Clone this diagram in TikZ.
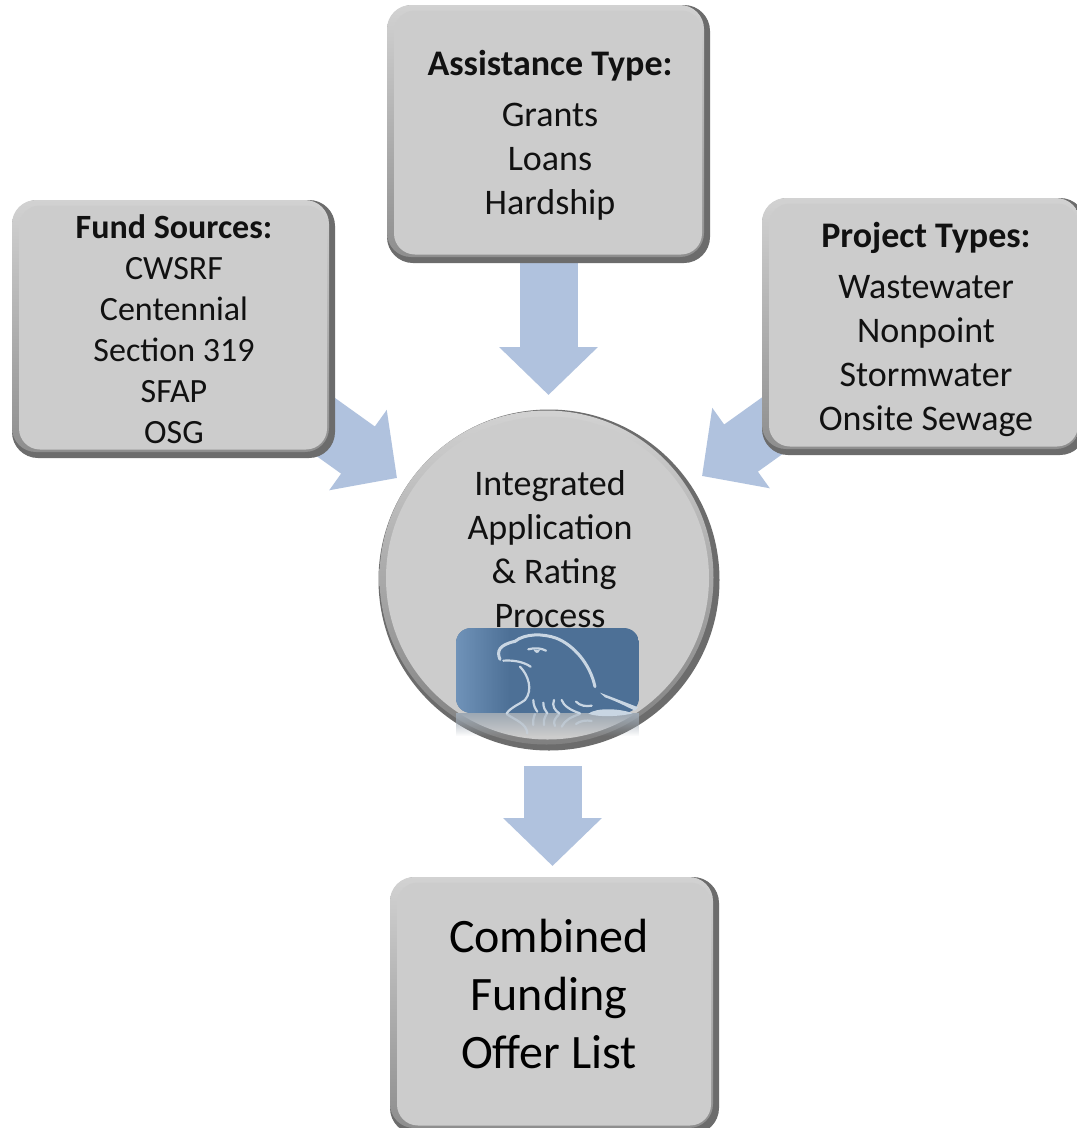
\documentclass[tikz,border=0pt]{standalone}
\usepackage{fontspec}
\setmainfont{Carlito}
\usetikzlibrary{arrows.meta,fadings,calc}
\definecolor{arrowblue}{HTML}{B0C2DE}
\definecolor{faceg}{HTML}{CCCCCC}
\definecolor{bevdark}{HTML}{6C6C6C}
\definecolor{bevtop}{HTML}{D2D2D2}
\definecolor{bevleft}{HTML}{8E8E8E}
\definecolor{logob}{HTML}{4D7096}
\definecolor{logol}{HTML}{7093B9}
\definecolor{eagle}{HTML}{C9D6E3}
\definecolor{txt}{HTML}{111111}
\newcommand{\bevbox}[5]{%
  \path let \n1={#4-#2}, \n2={#5-#3} in
    node[fill=bevdark,rounded corners=26pt,minimum width=\n1 pt,minimum height=\n2 pt,shape=rectangle,inner sep=0pt] (#1outer) at ({(#2+#4)/2},{(#3+#5)/2}) {};
  \path let \n1={#4-#2-6}, \n2={#5-#3-6} in
    node[top color=bevtop,bottom color=bevleft,rounded corners=24pt,minimum width=\n1 pt,minimum height=\n2 pt,shape=rectangle,inner sep=0pt] (#1mid) at ({(#2+#4)/2-3},{(#3+#5)/2-3}) {};
  \path let \n1={#4-#2-15}, \n2={#5-#3-14} in
    node[fill=faceg,rounded corners=21pt,minimum width=\n1 pt,minimum height=\n2 pt,shape=rectangle,inner sep=0pt] (#1) at ({(#2+#4)/2-0.5},{(#3+#5)/2-1.5}) {};
}
\tikzset{
  blockarrow/.style={draw=arrowblue,line width=58pt,-{Triangle[length=48pt,width=96pt,fill=arrowblue]}},
  listtext/.style={align=center,inner sep=0pt,text=txt,font=\fontsize{36}{44}\selectfont},
  fundtext/.style={align=center,inner sep=0pt,text=txt,font=\fontsize{34}{41}\selectfont},
  bigtext/.style={align=center,inner sep=0pt,text=black,font=\fontsize{48}{58}\selectfont},
  eagleline/.style={draw=eagle,line width=2.2pt,line cap=round}
}
\begin{document}
\begin{tikzpicture}[x=1pt,y=-1pt]
\useasboundingbox (0,0) rectangle (1077,1128);
\fill[white] (0,0) rectangle (1077,1128);
\clip (0,0) rectangle (1077,1128);
% arrow ends
\coordinate (fundout) at (309,415);
\coordinate (tipL) at (397,478);
\coordinate (projout) at (797,408);
\coordinate (tipR) at (702,476);
\coordinate (assistout) at (548.5,250);
\coordinate (tipT) at (548.5,395);
\coordinate (centerout) at (552.5,766);
\coordinate (tipB) at (552.5,866);
\draw[blockarrow] (fundout) -- (tipL);
\draw[blockarrow] (projout) -- (tipR);
\draw[blockarrow] (assistout) -- (tipT);
\draw[blockarrow] (centerout) -- (tipB);
% boxes
\bevbox{assist}{387}{5}{710}{263}
\bevbox{fund}{12}{200}{335}{458}
\bevbox{proj}{762}{198}{1086}{455}
\bevbox{comb}{390}{877}{719}{1134}
% circle
\node[circle,fill=bevdark,minimum size=341pt,inner sep=0pt] (circO) at (549,580) {};
\node[circle,top color=bevtop,bottom color=bevleft!90!black,minimum size=334pt,inner sep=0pt] (circM) at (546.5,577.5) {};
\node[circle,fill=faceg,minimum size=323pt,inner sep=0pt] (circ) at (547.5,578) {};
% texts
\node[listtext] (assistT) at (550,135) {\textbf{Assistance Type:}\\[7pt]Grants\\Loans\\Hardship};
\node[fundtext] (fundT) at (174,329.5) {\textbf{Fund Sources:}\\CWSRF\\Centennial\\Section 319\\SFAP\\OSG};
\node[listtext] (projT) at (926,329.5) {\textbf{Project Types:}\\[7pt]Wastewater\\Nonpoint\\Stormwater\\Onsite Sewage};
\node[listtext] (circT) at (550,549) {Integrated\\Application\\\ \& Rating\\Process};
\node[bigtext] (combT) at (549,994) {Combined\\Funding\\Offer List};
% logo
\begin{scope}
\clip[rounded corners=15pt] (456,628) rectangle (639,713) -- cycle;
\fill[logob] (456,628) rectangle (639,713);
\fill[logol,path fading=east] (456,628) rectangle (510,713);
\end{scope}
\node[inner sep=0pt,fill=none] (logo) at (547.5,670) {};
\fill[color=bevdark!50!logob!60!white,path fading=south] (456,713) rectangle (639,736);
% eagle (zoom coords: x=440+z/3, y=620+z/3)
\begin{scope}[shift={(440,620)},x=0.3333pt,y=-0.3333pt]
 \draw[eagleline,line width=3pt] (180,118) .. controls (170,95) and (175,75) .. (225,64) .. controls (255,40) and (310,40) .. (350,55) .. controls (400,75) and (450,130) .. (465,200);
 \draw[eagleline] (190,122) .. controls (220,120) and (250,125) .. (272,140);
 \draw[eagleline] (240,140) .. controls (265,165) and (280,210) .. (255,240) .. controls (235,255) and (215,260) .. (200,280);
 \draw[eagleline] (265,88) .. controls (285,82) and (305,85) .. (318,92);
 \fill[eagle] (280,88) .. controls (285,100) and (295,104) .. (300,90) -- cycle;
 \draw[eagleline] (280,240) .. controls (280,255) and (285,265) .. (292,275);
 \draw[eagleline] (310,248) .. controls (310,262) and (315,272) .. (322,280);
 \draw[eagleline] (342,240) .. controls (335,258) and (345,272) .. (358,280);
 \draw[eagleline] (365,240) .. controls (370,258) and (395,272) .. (420,280);
 \draw[eagleline] (408,245) .. controls (420,258) and (440,260) .. (455,257);
 \fill[eagle] (480,218) -- (595,262) -- (585,272) .. controls (550,255) and (520,240) .. (495,232) -- cycle;
 \fill[eagle] (445,281) .. controls (470,262) and (540,265) .. (578,280) .. controls (540,290) and (470,292) .. cycle;
 \begin{scope}[opacity=.55]
 \draw[eagleline] (200,282) .. controls (225,300) and (260,310) .. (262,340);
 \draw[eagleline] (285,282) .. controls (280,295) and (278,305) .. (280,315);
 \draw[eagleline] (320,282) .. controls (312,295) and (310,305) .. (312,315);
 \draw[eagleline] (358,282) .. controls (345,295) and (338,305) .. (345,318);
 \draw[eagleline] (420,282) .. controls (395,290) and (375,300) .. (365,320);
 \draw[eagleline] (408,312) .. controls (420,302) and (440,300) .. (455,303);
 \end{scope}
\end{scope}
\end{tikzpicture}
\end{document}
